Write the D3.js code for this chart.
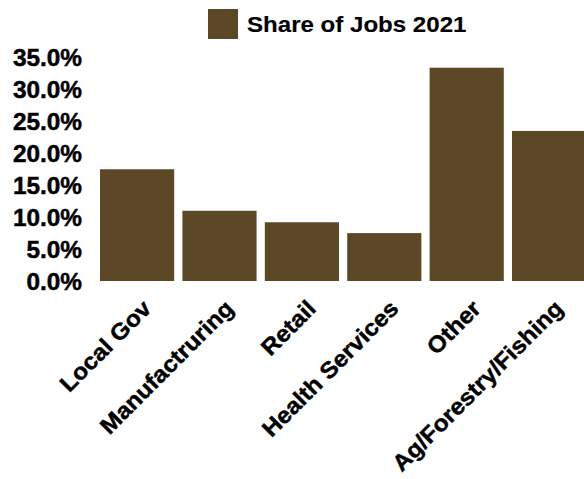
<!DOCTYPE html>
<html>
<head>
<meta charset="utf-8">
<script src="https://cdn.jsdelivr.net/npm/d3@7/dist/d3.min.js"></script>
<style>
  html, body { margin: 0; padding: 0; background: #ffffff; }
  svg { display: block; }
  text { font-family: "Liberation Sans", Arial, Helvetica, sans-serif; font-weight: bold; fill: #000; stroke: #000; stroke-width: 0.45px; }
  .legend-label { stroke-width: 0.15px; }
</style>
</head>
<body>
<svg id="chart" width="584" height="479"></svg>
<script>
// Share of jobs by sector, 2021
const categories = ["Local Gov", "Manufactruring", "Retail", "Health Services", "Other", "Ag/Forestry/Fishing"];
const shareOfJobs2021 = [0.175, 0.110, 0.092, 0.075, 0.334, 0.235];
const yTickValues = [0, 0.05, 0.10, 0.15, 0.20, 0.25, 0.30, 0.35];
const seriesName = "Share of Jobs 2021";

const barColor = "#5c4827";
const fontSize = 23;
const stretch = 1.06;

const svg = d3.select("#chart");

const x = d3.scaleBand()
  .domain(categories)
  .range([95.9, 590.3])
  .paddingInner(0.1)
  .paddingOuter(0.05);

const y = d3.scaleLinear()
  .domain([0, 0.35])
  .range([281, 57.5]);

// Bars
svg.append("g")
  .selectAll("rect")
  .data(categories)
  .join("rect")
  .attr("x", d => x(d))
  .attr("width", x.bandwidth())
  .attr("y", (d, i) => y(shareOfJobs2021[i]))
  .attr("height", (d, i) => y(0) - y(shareOfJobs2021[i]))
  .attr("fill", barColor);

// Y axis labels
const yAxis = d3.axisLeft(y)
  .tickValues(yTickValues)
  .tickFormat(d3.format(".1%"))
  .tickSize(0)
  .tickPadding(0);

const yg = svg.append("g")
  .attr("transform", "translate(82,0)")
  .call(yAxis);
yg.select(".domain").remove();
yg.selectAll(".tick text")
  .attr("x", 0)
  .attr("dy", "0.36em")
  .attr("transform", `scale(${stretch},1)`)
  .attr("transform-origin", "0 0")
  .style("font-size", fontSize + "px")
  .style("font-family", "'Liberation Sans', Arial, sans-serif")
  .style("font-weight", "bold")
  .attr("fill", "#000");

// X axis labels, rotated
const xAxis = d3.axisBottom(x).tickSize(0).tickPadding(0);
const xg = svg.append("g")
  .attr("transform", `translate(0,${y(0)})`)
  .call(xAxis);
xg.select(".domain").remove();
xg.selectAll(".tick text")
  .attr("y", 0)
  .attr("dy", 0)
  .attr("text-anchor", "end")
  .attr("transform", `translate(15.5,29) rotate(-45) scale(${stretch},1)`)
  .style("font-size", fontSize + "px")
  .style("font-family", "'Liberation Sans', Arial, sans-serif")
  .style("font-weight", "bold")
  .attr("fill", "#000");

// Legend
const legend = svg.append("g").attr("transform", "translate(208,9)");
legend.append("rect")
  .attr("width", 30)
  .attr("height", 30)
  .attr("fill", barColor);
legend.append("text")
  .attr("class", "legend-label")
  .attr("transform", "translate(39,15) scale(1.07,1)")
  .attr("dy", "0.36em")
  .style("font-size", "22.5px")
  .text(seriesName);
</script>
</body>
</html>
